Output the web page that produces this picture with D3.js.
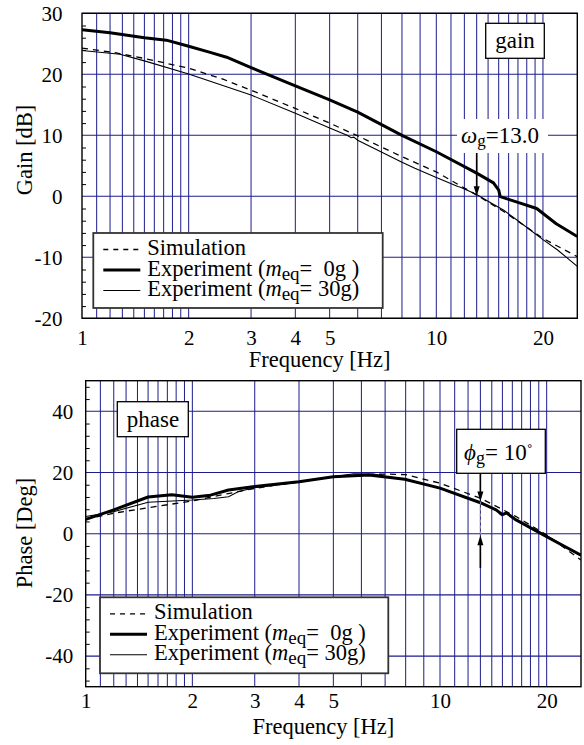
<!DOCTYPE html>
<html><head><meta charset="utf-8">
<script src="https://cdn.jsdelivr.net/npm/d3@7"></script>
<style>
body{margin:0;background:#fff}
text{font-family:"Liberation Serif","Times New Roman",serif;fill:#000}
</style>
</head><body>
<svg id="chart" width="584" height="745"></svg>
<script>
// ---------- data ----------
const freqTickLabels = [1, 2, 3, 4, 5, 10, 20];
const freqGrid = [1.1,1.2,1.3,1.4,1.5,1.6,1.7,1.8,1.9,2,3,4,5,6,7,8,9,10,11,12,13,14,15,16,17,18,19,20];
const gainTicks = [-20, -10, 0, 10, 20, 30];
const gainMinor = [-18,-16,-14,-12,-8,-6,-4,-2,2,4,6,8,12,14,16,18,22,24,26,28];
const phaseTicks = [-40, -20, 0, 20, 40];
const phaseMinor = [-48,-44,-36,-32,-28,-24,-16,-12,-8,-4,4,8,12,16,24,28,32,36,44,48];

// Gain [dB] vs frequency [Hz]
const gainSim = [[1,24.3],[1.25,23.5],[1.5,22.6],[2,21.0],[2.5,19.2],[3,17.4],[4,14.4],[5,12.0],[6,9.9],[8,6.5],[10,4.0],[13,0.2],[15.5,-2.5],[20,-6.9],[25,-9.9]];
const gainExp0 = [[1,27.3],[1.2,26.8],[1.5,26.0],[1.73,25.6],[2,24.6],[2.3,23.6],[2.56,22.8],[3,21.1],[4,18.1],[5,15.8],[6,13.8],[8,10.0],[10,7.3],[13,3.8],[14.5,2.2],[15,1.0],[15.15,-0.05],[16,-0.5],[17,-1.0],[19.2,-2.0],[21.8,-4.5],[25,-6.6]];
const gainExp30 = [[1,23.9],[1.28,23.3],[1.5,22.2],[2,20.05],[3,16.6],[4,13.6],[5,11.2],[5.6,10.0],[5.75,9.6],[5.85,9.7],[6,9.2],[8,5.6],[8.7,4.6],[10,3.1],[11.5,1.6],[11.7,1.5],[13,0.3],[14,-0.8],[15.5,-2.3],[17,-4.0],[20,-7.1],[22,-8.8],[25,-11.5]];

// Phase [Deg] vs frequency [Hz]
const phaseSim = [[1,4.8],[1.2,6.7],[1.5,8.5],[2,10.7],[2.5,13.0],[3,14.8],[4,17.0],[5,18.5],[6,19.2],[7,19.5],[8,19.3],[10,16.5],[13,11.6],[16.4,5.6],[20,-0.4],[25,-8.6]];
const phaseExp0 = [[1,4.7],[1.2,7.8],[1.5,12.0],[1.75,12.7],[2,11.9],[2.25,12.6],[2.53,14.3],[3,15.4],[4,17.0],[5,18.6],[6.3,19.2],[7.95,17.8],[10,14.9],[12.95,10.2],[14.4,7.8],[15,6.2],[15.4,6.8],[16.4,4.5],[20,-1.0],[25,-7.0]];
const phaseExp30 = [[1,5.6],[1.2,7.2],[1.5,10.3],[2,11.0],[2.3,11.5],[2.53,12.1],[2.7,13.8],[3,15.0],[4,16.8],[5,18.6],[5.7,19.6],[6.5,19.5],[7,18.8],[8,17.8],[10,14.8],[13,10.0],[14.5,7.6],[14.8,6.2],[15.5,6.8],[16.4,4.6],[20,-0.6],[25,-7.3]];

const legendLabels = ["Simulation", "Experiment (", "Experiment ("];
const legendMass = ["=  0g )", "= 30g)"];

// ---------- drawing ----------
const FONT = '"Liberation Serif","Times New Roman",serif';
const svg = d3.select("#chart");
svg.append("rect").attr("width",584).attr("height",745).attr("fill","#fff");
const gridColor = "#1c1c8c";

function panel(o) {
  const x = d3.scaleLog().domain([1, 25]).range([o.left, o.right]);
  const y = d3.scaleLinear().domain(o.yDomain).range([o.bottom, o.top]);
  const g = svg.append("g").attr("font-family", FONT);
  const clipId = "clip" + o.id;
  svg.append("clipPath").attr("id", clipId).append("rect")
    .attr("x", o.left).attr("y", o.top).attr("width", o.right - o.left).attr("height", o.bottom - o.top);

  // vertical grid
  g.append("g").selectAll("line").data(freqGrid).join("line")
    .attr("x1", d => x(d)).attr("x2", d => x(d))
    .attr("y1", o.top).attr("y2", o.bottom)
    .attr("stroke", gridColor).attr("stroke-width", 1);
  // horizontal grid
  g.append("g").selectAll("line").data(o.yTicks).join("line")
    .attr("x1", o.left).attr("x2", o.right)
    .attr("y1", d => y(d)).attr("y2", d => y(d))
    .attr("stroke", gridColor).attr("stroke-width", 1.1);

  // minor ticks on left (inward)
  const minor = g.append("g").attr("transform", `translate(${o.left},0)`)
    .call(d3.axisRight(y).tickValues(o.minor).tickSize(4).tickFormat(""));
  minor.select(".domain").remove();
  minor.selectAll("line").attr("stroke", "#000").attr("stroke-width", 1);

  if (o.before) o.before(g, x, y);

  // curves
  const line = d3.line().x(d => x(d[0])).y(d => y(d[1]));
  const cg = g.append("g").attr("clip-path", `url(#${clipId})`);
  cg.append("path").datum(o.sim).attr("d", line).attr("fill", "none")
    .attr("stroke", "#000").attr("stroke-width", 1.3).attr("stroke-dasharray", "6,5");
  cg.append("path").datum(o.exp30).attr("d", line).attr("fill", "none")
    .attr("stroke", "#000").attr("stroke-width", 1.1);
  cg.append("path").datum(o.exp0).attr("d", line).attr("fill", "none")
    .attr("stroke", "#000").attr("stroke-width", 3).attr("stroke-linejoin", "round");

  // frame
  g.append("rect").attr("x", o.left).attr("y", o.top)
    .attr("width", o.right - o.left).attr("height", o.bottom - o.top)
    .attr("fill", "none").attr("stroke", "#000").attr("stroke-width", 1.4);

  // axes labels
  const ax = g.append("g").attr("transform", `translate(0,${o.bottom})`)
    .call(d3.axisBottom(x).tickValues(freqTickLabels).tickFormat(d => String(d)).tickSize(0).tickPadding(o.xPad));
  ax.select(".domain").remove();
  ax.attr("font-family", FONT).attr("font-size", 21);
  ax.selectAll("text").attr("font-size", 21);
  const ay = g.append("g").attr("transform", `translate(${o.left},0)`)
    .call(d3.axisLeft(y).tickValues(o.yTicks).tickFormat(d => String(d)).tickSize(0).tickPadding(o.yPad));
  ay.select(".domain").remove();
  ay.attr("font-family", FONT).attr("font-size", 21);
  ay.selectAll("text").attr("font-size", 21);

  // titles
  g.append("text").attr("x", (o.left + o.right) / 2 - 10).attr("y", o.xTitleY)
    .attr("text-anchor", "middle").attr("font-size", 22.5).text("Frequency [Hz]");
  g.append("text").attr("transform", `translate(${o.yTitleX},${o.yTitleCY}) rotate(-90)`)
    .attr("text-anchor", "middle").attr("font-size", 22.5).text(o.yTitle);

  // legend
  const L = o.legend;
  const lg = g.append("g");
  lg.append("rect").attr("x", L.x).attr("y", L.y).attr("width", L.w).attr("height", L.h)
    .attr("fill", "#fff").attr("stroke", "#333").attr("stroke-width", 1.8);
  const rows = [
    {dash: "5,5", w: 1.3},
    {dash: null, w: 3},
    {dash: null, w: 1.1}
  ];
  rows.forEach((r, i) => {
    const ly = L.y + 16.5 + i * 20.5;
    lg.append("line").attr("x1", L.x + 10).attr("x2", L.x + 47).attr("y1", ly).attr("y2", ly)
      .attr("stroke", "#000").attr("stroke-width", r.w).attr("stroke-dasharray", r.dash);
    const t = lg.append("text").attr("x", L.x + 54).attr("y", L.y + 22 + i * 20.5)
      .attr("font-size", 22.5).style("white-space", "pre");
    t.append("tspan").text(legendLabels[i]);
    if (i > 0) {
      t.append("tspan").attr("font-style", "italic").text("m");
      t.append("tspan").attr("font-size", 19).attr("dy", 4).text("eq");
      t.append("tspan").attr("dy", -4).text(legendMass[i - 1]);
    }
  });

  if (o.after) o.after(g, x, y);
}

function arrowHead(g, x, yTip, dir) {
  // dir = 1 pointing down, -1 pointing up
  g.append("path")
    .attr("d", `M${x},${yTip} L${x - 3},${yTip - dir * 10} L${x + 3},${yTip - dir * 10} Z`)
    .attr("fill", "#000");
}

// ---- Gain panel ----
panel({
  id: "g", left: 82, right: 577.3, top: 13.3, bottom: 318.3,
  yDomain: [-20, 30], yTicks: gainTicks, minor: gainMinor,
  sim: gainSim, exp0: gainExp0, exp30: gainExp30,
  xPad: 12, yPad: 19.5, xTitleY: 367, yTitleX: 32, yTitleCY: 150, yTitle: "Gain [dB]",
  legend: {x: 93.3, y: 233, w: 289.4, h: 75},
  before: (g, x, y) => {
    g.append("rect").attr("x", 457).attr("y", 119).attr("width", 91).attr("height", 34).attr("fill", "#fff");
    const t = g.append("text").attr("x", 461).attr("y", 143.3).attr("font-size", 23);
    t.append("tspan").attr("font-style", "italic").text("ω");
    t.append("tspan").attr("font-size", 17).attr("dy", 3).text("g");
    t.append("tspan").attr("dy", -3).text("=13.0");
    const ax = x(13);
    g.append("line").attr("x1", ax).attr("x2", ax).attr("y1", 153).attr("y2", y(0) - 6)
      .attr("stroke", "#000").attr("stroke-width", 1.6);
    arrowHead(g, ax, y(0), 1);
    g.append("rect").attr("x", 485.7).attr("y", 23.3).attr("width", 58.6).attr("height", 35)
      .attr("fill", "#fff").attr("stroke", "#000").attr("stroke-width", 1.3);
    g.append("text").attr("x", 515).attr("y", 48).attr("text-anchor", "middle").attr("font-size", 23).text("gain");
  }
});

// ---- Phase panel ----
panel({
  id: "p", left: 85.7, right: 581, top: 380.7, bottom: 686.7,
  yDomain: [-50, 50], yTicks: phaseTicks, minor: phaseMinor,
  sim: phaseSim, exp0: phaseExp0, exp30: phaseExp30,
  xPad: 6.5, yPad: 12.4, xTitleY: 734, yTitleX: 32, yTitleCY: 533, yTitle: "Phase [Deg]",
  legend: {x: 100, y: 597.3, w: 288.3, h: 76},
  before: (g, x, y) => {
    g.append("rect").attr("x", 117.3).attr("y", 401.7).attr("width", 71).attr("height", 35)
      .attr("fill", "#fff").attr("stroke", "#000").attr("stroke-width", 1.3);
    g.append("text").attr("x", 153).attr("y", 427).attr("text-anchor", "middle").attr("font-size", 23).text("phase");
  },
  after: (g, x, y) => {
    const ax = x(13);
    g.append("line").attr("x1", ax).attr("x2", ax).attr("y1", y(10.5)).attr("y2", y(-0.5))
      .attr("stroke", "#999").attr("stroke-width", 1).attr("stroke-dasharray", "3,3");
    g.append("line").attr("x1", ax).attr("x2", ax).attr("y1", 473.3).attr("y2", y(10.5) - 6)
      .attr("stroke", "#000").attr("stroke-width", 1.6);
    arrowHead(g, ax, y(10.5), 1);
    g.append("line").attr("x1", ax).attr("x2", ax).attr("y1", y(-11.2)).attr("y2", y(-0.5) + 6)
      .attr("stroke", "#000").attr("stroke-width", 1.6);
    arrowHead(g, ax, y(-0.5), -1);
    g.append("rect").attr("x", 456.7).attr("y", 429.3).attr("width", 88.6).attr("height", 44)
      .attr("fill", "#fff").attr("stroke", "#000").attr("stroke-width", 1.3);
    const t = g.append("text").attr("x", 464).attr("y", 460).attr("font-size", 23).style("white-space", "pre");
    t.append("tspan").attr("font-style", "italic").text("ϕ");
    t.append("tspan").attr("font-size", 18).attr("dy", 4).text("g");
    t.append("tspan").attr("dy", -4).text("= 10");
    t.append("tspan").attr("font-size", 18).attr("dy", -2).text("˚");
  }
});
</script>
</body></html>
